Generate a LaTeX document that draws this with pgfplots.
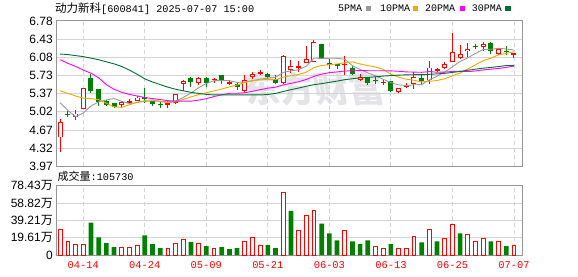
\documentclass[border=0pt]{standalone}
\usepackage{fontspec}
\usepackage{pgfplots}
\usepackage{pgfplotstable}
\pgfplotsset{compat=1.18}
\setmainfont{Liberation Sans}
\newfontfamily\cjk{Noto Sans CJK SC}
\newfontfamily\mono{Liberation Mono}
\definecolor{kred}{RGB}{255,0,0}
\definecolor{kgreen}{RGB}{0,128,0}
\definecolor{maA}{RGB}{153,153,153}
\definecolor{maB}{RGB}{240,168,0}
\definecolor{maC}{RGB}{255,0,255}
\definecolor{maD}{RGB}{0,112,48}
\definecolor{frm}{RGB}{150,150,150}
\definecolor{grd}{RGB}{212,212,212}
\definecolor{wm}{RGB}{228,228,232}

\pgfplotstableread{
i o h l c
0 4.53 4.88 4.24 4.82
2 4.92 5.06 4.87 4.99
3 5.08 5.49 5.07 5.48
8 5.15 5.23 5.11 5.21
9 5.20 5.27 5.17 5.22
10 5.24 5.33 5.23 5.30
14 5.16 5.23 5.09 5.19
15 5.19 5.37 5.17 5.37
16 5.56 5.63 5.43 5.62
18 5.59 5.70 5.55 5.67
20 5.61 5.67 5.58 5.65
22 5.57 5.64 5.54 5.59
24 5.43 5.73 5.41 5.64
25 5.70 5.80 5.66 5.76
26 5.76 5.83 5.74 5.78
29 5.58 6.12 5.56 6.10
30 5.83 6.03 5.77 5.90
31 5.88 6.01 5.80 5.90
32 5.97 6.30 5.97 6.04
33 5.99 6.41 5.98 6.37
37 5.92 6.10 5.73 5.94
39 5.64 5.75 5.62 5.70
42 5.58 5.64 5.54 5.60
44 5.40 5.48 5.38 5.48
45 5.51 5.59 5.48 5.53
46 5.56 5.80 5.47 5.69
48 5.63 6.01 5.56 5.88
49 5.82 5.88 5.79 5.84
50 5.88 5.99 5.85 5.95
51 5.99 6.54 5.99 6.17
52 6.06 6.31 6.05 6.14
53 6.19 6.35 6.09 6.23
55 6.27 6.38 6.19 6.33
57 6.14 6.24 6.12 6.23
59 6.13 6.16 6.07 6.16
}\up

\pgfplotstableread{
i o h l c
1 4.98 5.04 4.93 4.96
4 5.68 5.75 5.39 5.43
5 5.47 5.47 5.14 5.21
6 5.24 5.25 5.14 5.16
7 5.20 5.20 5.09 5.12
11 5.30 5.48 5.20 5.28
12 5.24 5.24 5.14 5.17
13 5.17 5.21 5.09 5.15
17 5.67 5.69 5.51 5.60
19 5.67 5.69 5.51 5.59
21 5.73 5.73 5.57 5.63
23 5.57 5.59 5.45 5.50
27 5.76 5.78 5.65 5.70
28 5.65 5.74 5.56 5.59
34 6.33 6.34 6.05 6.06
35 5.97 6.04 5.85 5.92
36 5.94 5.94 5.85 5.90
38 5.88 5.91 5.73 5.75
40 5.67 5.70 5.55 5.59
41 5.63 5.70 5.57 5.61
43 5.61 5.61 5.41 5.43
47 5.67 5.73 5.57 5.62
54 6.30 6.33 6.23 6.27
56 6.35 6.37 6.14 6.19
58 6.19 6.30 6.12 6.17
}\down

\pgfplotstableread{
i v
0 28.5
1 15.5
2 12.2
3 12.2
8 8.5
9 8.5
10 10.7
14 7.8
15 13.3
16 17.3
18 13.0
20 7.5
24 15.5
25 19.6
26 10.7
29 70.5
31 27.3
32 45.1
33 50.6
37 27.3
41 9.6
42 7.5
44 7.5
45 7.5
46 20.7
48 28.5
50 18.5
51 34.3
53 22.9
54 15.5
55 18.5
57 15.5
59 10.573
}\volred

\pgfplotstableread{
i v
4 36.6
5 19.9
6 13.3
7 8.9
11 22.2
12 12.2
13 7.8
17 14.8
19 10.0
21 8.9
22 6.6
23 7.8
27 11.1
28 7.8
30 49.9
34 35.5
35 24.4
36 16.6
38 15.5
39 12.2
40 16.6
43 12.2
47 14.4
49 15.5
52 24.4
56 15.5
58 10.0
}\volgreen

\pgfplotsset{
  candle/.style 2 args={draw=none, mark=none, forget plot,
    error bars/.cd, y dir=plus, y explicit, error mark=none,
    error bar style={draw=#1, line width=#2, line cap=butt}},
}

\begin{document}
\begin{tikzpicture}[x=1pt,y=1pt]
\useasboundingbox (0,0) rectangle (578,276);
\node[text=wm, font=\cjk\bfseries\fontsize{35}{35}\selectfont, xslant=-0.2] at (314,187) {东方财富};

\begin{axis}[
  at={(56pt,109.6pt)}, anchor=south west,
  width=466pt, height=145.5pt, scale only axis,
  xmin=-0.55, xmax=60.05, ymin=3.97, ymax=6.78,
  xtick={3,11,19,27,35,43,51,59},
  xticklabels={,,,,,,,},
  ytick={3.97,4.32125,4.6725,5.02375,5.375,5.72625,6.0775,6.42875,6.78},
  yticklabels={3.97,4.32,4.67,5.02,5.37,5.73,6.08,6.43,6.78},
  xmajorgrids, ymajorgrids,
  major x grid style={draw=grd, line width=0.8pt, dash pattern=on 4pt off 3pt},
  major y grid style={draw=grd, line width=0.8pt},
  major tick length=0pt,
  yticklabel style={font=\fontsize{12}{12}\selectfont, inner sep=0pt, anchor=east},
  yticklabel shift=3pt,
  axis line style={draw=frm, line width=1pt},
]
% red candles
\addplot[candle={kred}{1pt}]
  table[x=i, y=l, y error plus expr=\thisrow{h}-\thisrow{l}] {\up};
\addplot[candle={kred}{5pt}]
  table[x=i, y expr={min(\thisrow{o},\thisrow{c})}, y error plus expr={max(abs(\thisrow{c}-\thisrow{o}),0.028)}] {\up};
\addplot[candle={white}{3.2pt}]
  table[x=i, y expr={min(\thisrow{o},\thisrow{c})+0.0174}, y error plus expr={max(abs(\thisrow{c}-\thisrow{o})-0.0348,0)}] {\up};
% green candles
\addplot[candle={kgreen}{1pt}]
  table[x=i, y=l, y error plus expr=\thisrow{h}-\thisrow{l}] {\down};
\addplot[candle={kgreen}{5pt}]
  table[x=i, y expr={min(\thisrow{o},\thisrow{c})}, y error plus expr={max(abs(\thisrow{c}-\thisrow{o}),0.028)}] {\down};
% MA5
\addplot[maA, line width=0.9pt, mark=none] coordinates {
(0,5.20)(1,5.05)(2,4.93)(3,5.00)(4,5.138)(5,5.216)(6,5.254)(7,5.280)(8,5.226)(9,5.184)
(10,5.202)(11,5.226)(12,5.236)(13,5.224)(14,5.218)(15,5.232)(16,5.300)(17,5.386)(18,5.490)(19,5.570)
(20,5.626)(21,5.628)(22,5.626)(23,5.592)(24,5.602)(25,5.624)(26,5.654)(27,5.676)(28,5.694)(29,5.786)
(30,5.814)(31,5.838)(32,5.906)(33,6.062)(34,6.054)(35,6.058)(36,6.058)(37,6.038)(38,5.914)(39,5.842)
(40,5.776)(41,5.720)(42,5.652)(43,5.588)(44,5.544)(45,5.532)(46,5.546)(47,5.550)(48,5.640)(49,5.712)
(50,5.796)(51,5.892)(52,5.996)(53,6.066)(54,6.152)(55,6.228)(56,6.232)(57,6.250)(58,6.238)(59,6.216)};
% MA10
\addplot[maB, line width=0.9pt, mark=none] coordinates {
(0,5.43)(1,5.38)(2,5.33)(3,5.29)(4,5.28)(5,5.26)(6,5.19)(7,5.12)(8,5.11)(9,5.161)
(10,5.209)(11,5.240)(12,5.258)(13,5.225)(14,5.201)(15,5.217)(16,5.263)(17,5.311)(18,5.357)(19,5.394)
(20,5.429)(21,5.464)(22,5.506)(23,5.541)(24,5.586)(25,5.625)(26,5.641)(27,5.651)(28,5.643)(29,5.694)
(30,5.719)(31,5.746)(32,5.791)(33,5.878)(34,5.920)(35,5.936)(36,5.948)(37,5.972)(38,5.988)(39,5.948)
(40,5.917)(41,5.889)(42,5.845)(43,5.751)(44,5.693)(45,5.654)(46,5.633)(47,5.601)(48,5.614)(49,5.628)
(50,5.664)(51,5.719)(52,5.773)(53,5.853)(54,5.932)(55,6.012)(56,6.062)(57,6.123)(58,6.152)(59,6.184)};
% MA20
\addplot[maC, line width=0.9pt, mark=none] coordinates {
(0,6.03)(1,5.96)(2,5.90)(3,5.83)(4,5.77)(5,5.68)(6,5.55)(7,5.46)(8,5.40)(9,5.36)
(10,5.33)(11,5.30)(12,5.28)(13,5.26)(14,5.24)(15,5.23)(16,5.23)(17,5.23)(18,5.25)(19,5.278)
(20,5.319)(21,5.352)(22,5.382)(23,5.383)(24,5.394)(25,5.421)(26,5.452)(27,5.481)(28,5.500)(29,5.544)
(30,5.574)(31,5.605)(32,5.649)(33,5.710)(34,5.753)(35,5.781)(36,5.795)(37,5.812)(38,5.816)(39,5.821)
(40,5.818)(41,5.818)(42,5.818)(43,5.815)(44,5.807)(45,5.795)(46,5.791)(47,5.787)(48,5.801)(49,5.788)
(50,5.791)(51,5.804)(52,5.809)(53,5.802)(54,5.813)(55,5.833)(56,5.848)(57,5.862)(58,5.883)(59,5.906)};
% MA30
\addplot[maD, line width=0.9pt, mark=none] coordinates {
(0,6.14)(1,6.13)(2,6.11)(3,6.09)(4,6.06)(5,6.03)(6,5.99)(7,5.95)(8,5.90)(9,5.83)
(10,5.75)(11,5.66)(12,5.60)(13,5.55)(14,5.50)(15,5.46)(16,5.43)(17,5.40)(18,5.38)(19,5.36)
(20,5.35)(21,5.35)(22,5.35)(23,5.35)(24,5.35)(25,5.35)(26,5.35)(27,5.36)(28,5.38)(29,5.416)
(30,5.452)(31,5.483)(32,5.518)(33,5.548)(34,5.569)(35,5.593)(36,5.617)(37,5.645)(38,5.663)(39,5.679)
(40,5.688)(41,5.700)(42,5.714)(43,5.723)(44,5.733)(45,5.738)(46,5.741)(47,5.741)(48,5.748)(49,5.757)
(50,5.767)(51,5.785)(52,5.803)(53,5.827)(54,5.848)(55,5.867)(56,5.881)(57,5.899)(58,5.918)(59,5.920)};
\end{axis}

\begin{axis}[
  at={(56pt,21pt)}, anchor=south west,
  width=466pt, height=69.4pt, scale only axis,
  xmin=-0.55, xmax=60.05, ymin=0, ymax=78.43,
  xtick={3,11,19,27,35,43,51,59},
  xticklabels={04-14,04-24,05-09,05-21,06-03,06-13,06-25,07-07},
  ytick={0,19.6075,39.215,58.8225,78.43},
  yticklabels={0,19.61{\cjk 万},39.21{\cjk 万},58.82{\cjk 万},78.43{\cjk 万}},
  xmajorgrids, ymajorgrids,
  major x grid style={draw=grd, line width=0.8pt, dash pattern=on 4pt off 3pt},
  major y grid style={draw=grd, line width=0.8pt},
  major tick length=0pt,
  yticklabel style={font=\fontsize{12}{12}\selectfont, inner sep=0pt, anchor=east},
  yticklabel shift=3pt,
  xticklabel style={font=\mono\fontsize{10.4}{12}\selectfont, text=kred, inner sep=0pt, anchor=north},
  xticklabel shift=6.5pt,
  axis line style={draw=frm, line width=1pt},
]
\addplot[ybar, bar width=3.8pt, bar shift=0pt, fill=white, draw=kred, line width=0.9pt] table[x=i, y=v] {\volred};
\addplot[ybar, bar width=4.7pt, bar shift=0pt, fill=kgreen, draw=none] table[x=i, y=v] {\volgreen};
\end{axis}

% title
\node[anchor=west, inner sep=0pt] at (55,266.8) {{\cjk\fontsize{11.5}{12}\selectfont 动力新科}{\mono\fontsize{10.2}{12}\selectfont [600841] 2025-07-07 15:00}};
% legend
\node[anchor=west, inner sep=0pt, font=\mono\fontsize{10}{12}\selectfont] at (338,267.3) {5PMA};
\fill[maA] (366,265.3) rectangle (370.5,269.5);
\node[anchor=west, inner sep=0pt, font=\mono\fontsize{10}{12}\selectfont] at (380,267.3) {10PMA};
\fill[maB] (413.3,265.3) rectangle (418.3,269.5);
\node[anchor=west, inner sep=0pt, font=\mono\fontsize{10}{12}\selectfont] at (425,267.3) {20PMA};
\fill[maC] (460,265.3) rectangle (465,269.5);
\node[anchor=west, inner sep=0pt, font=\mono\fontsize{10}{12}\selectfont] at (471.7,267.3) {30PMA};
\fill[maD] (505,265.3) rectangle (510.7,269.5);
% volume label
\node[anchor=west, inner sep=0pt] at (57.5,99.3) {{\cjk\fontsize{11}{12}\selectfont 成交量}{\mono\fontsize{10.2}{12}\selectfont :105730}};
\end{tikzpicture}
\end{document}
